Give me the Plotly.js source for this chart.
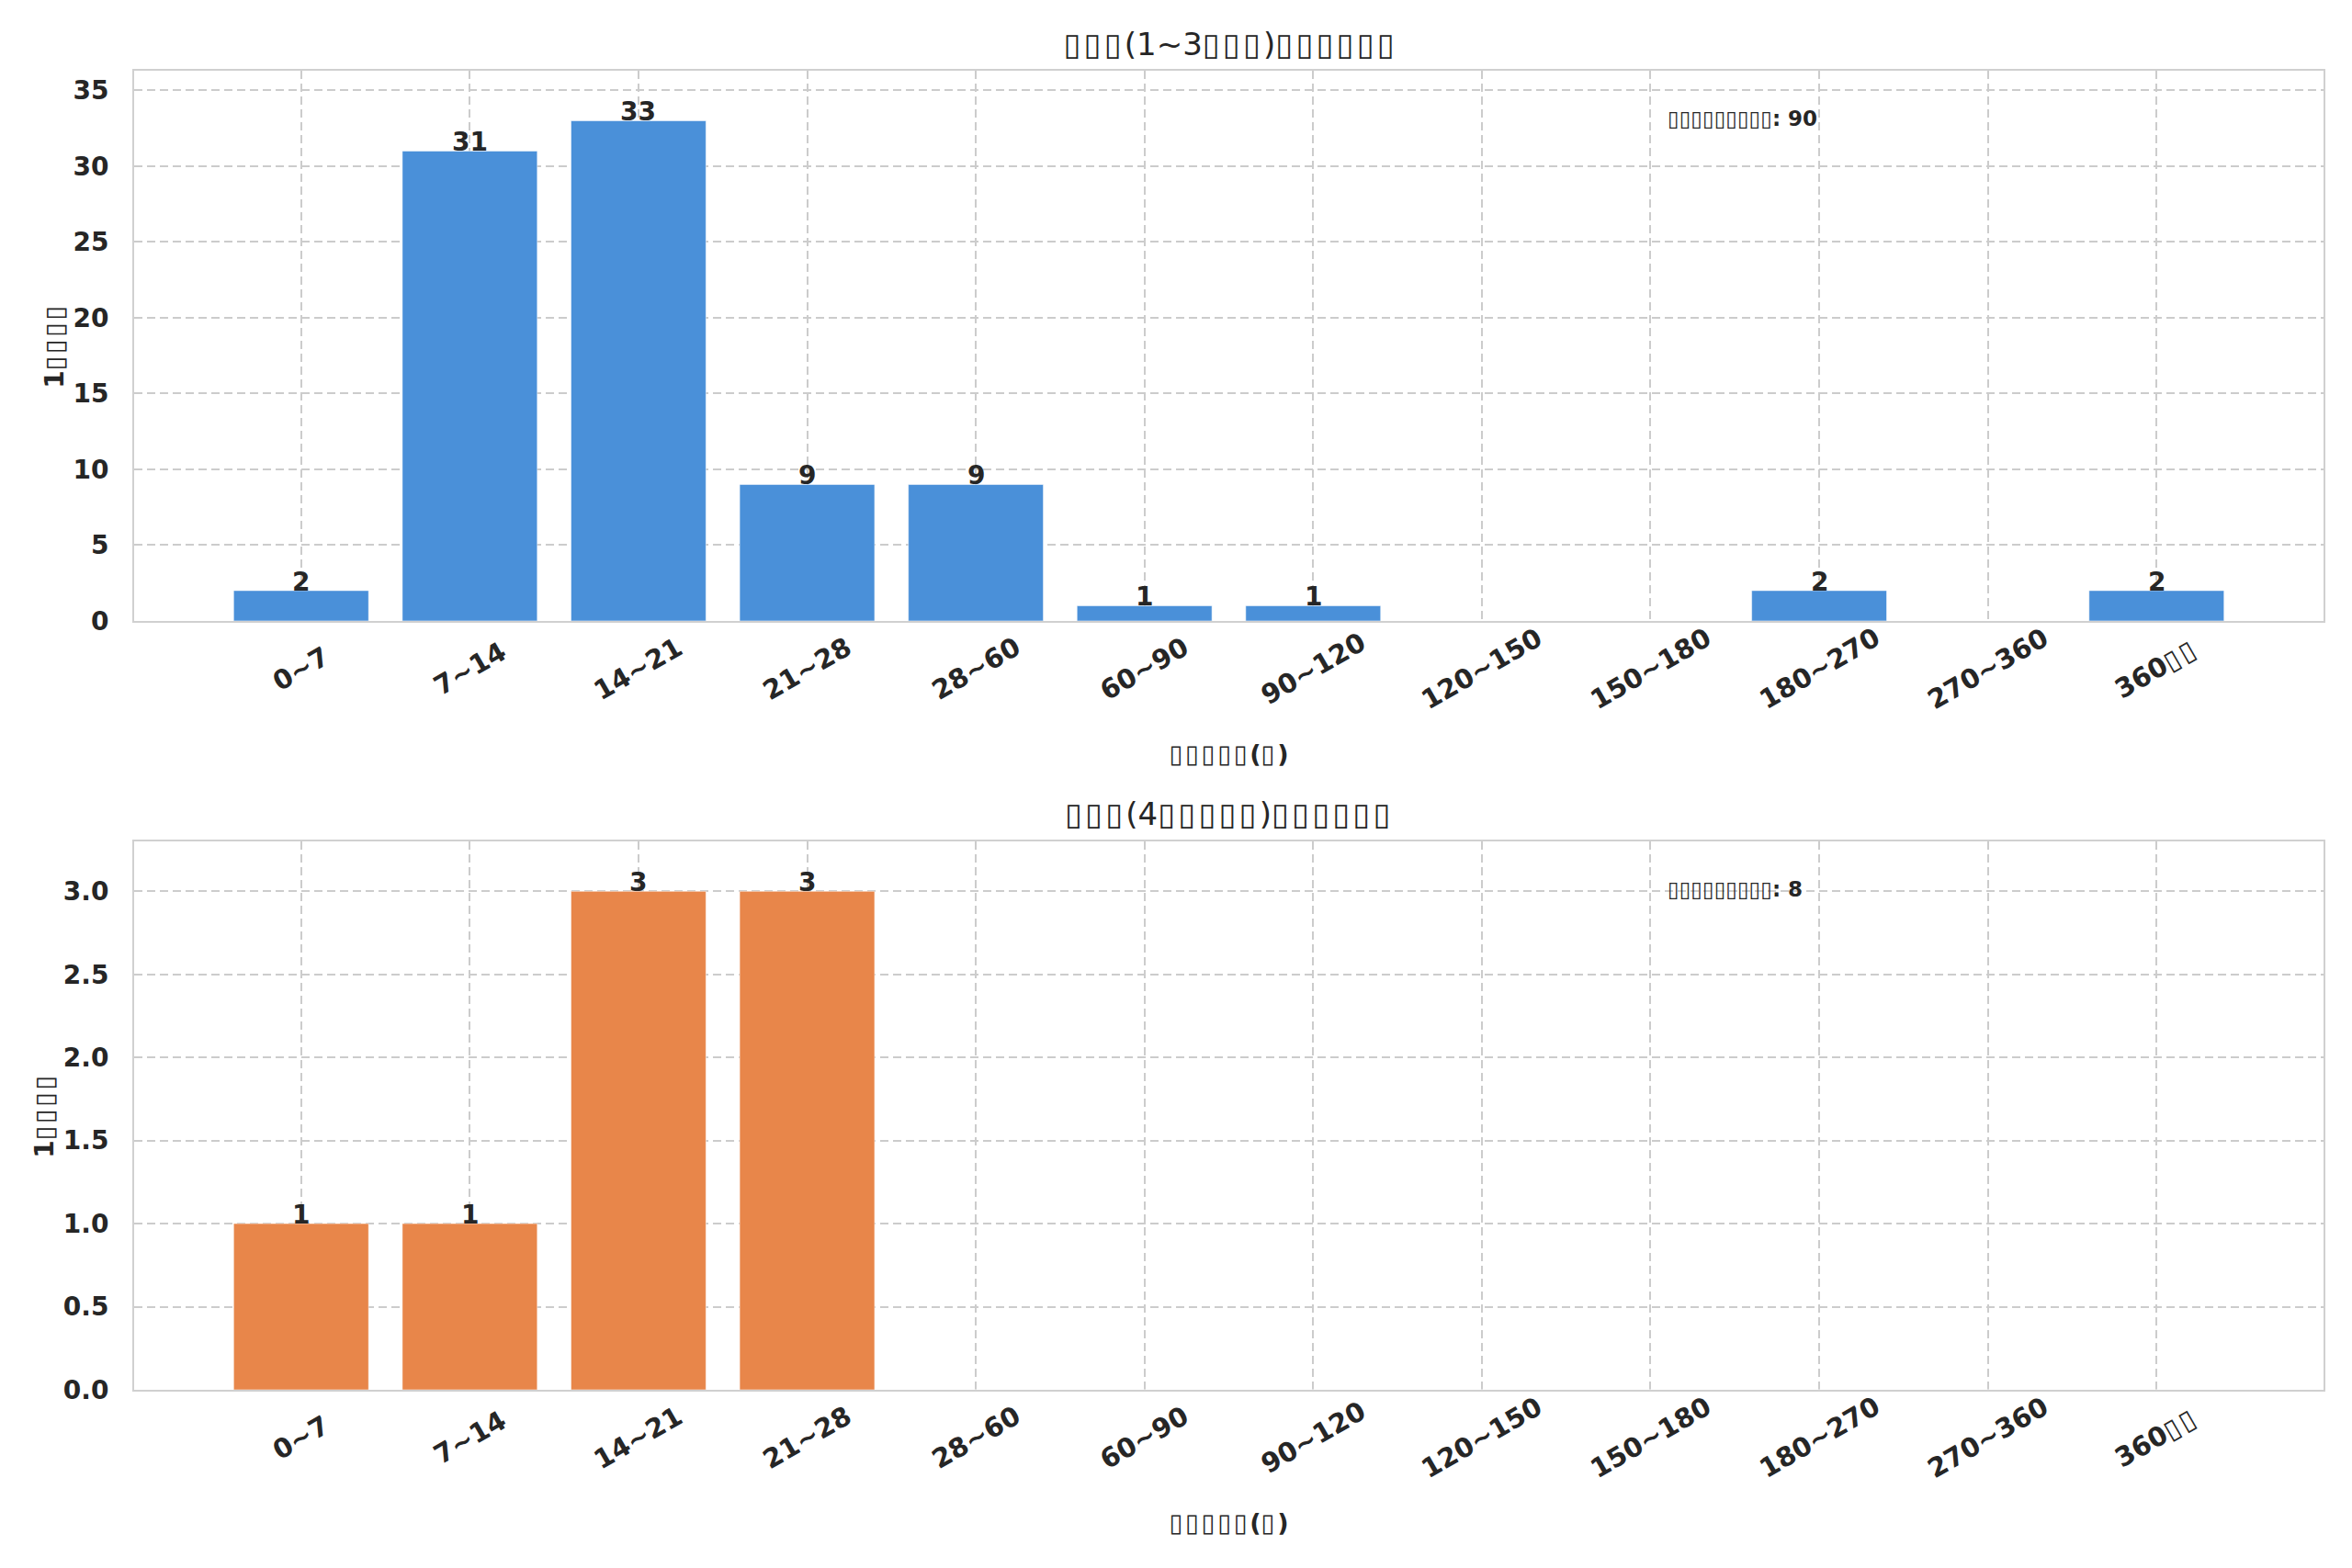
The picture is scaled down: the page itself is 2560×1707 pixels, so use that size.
<!DOCTYPE html>
<html>
<head>
<meta charset="utf-8">
<script src="https://cdn.plot.ly/plotly-3.0.1.min.js"></script>
<style>html,body{margin:0;padding:0;background:#fff;}#chart{width:2560px;height:1707px;}</style>
</head>
<body>
<div id="chart"></div>
<script>
// ---- data ----
var categories = ['0~7','7~14','14~21','21~28','28~60','60~90','90~120','120~150','150~180','180~270','270~360','360▯▯'];
var valuesTop = [2,31,33,9,9,1,1,0,0,2,0,2];
var valuesBottom = [1,1,3,3,0,0,0,0,0,0,0,0];
var titleTop = '▯▯▯(1~3▯▯▯)▯▯▯▯▯▯';
var titleBottom = '▯▯▯(4▯▯▯▯▯)▯▯▯▯▯▯';
var xTitle = '▯▯▯▯▯(▯)';
var yTitle = '1▯▯▯▯';
var totalLabel = '▯▯▯▯▯▯▯▯▯: ';

var FONT = 'DejaVu Sans, sans-serif';
var TXT = '#262626';
var GRID = '#cccccc';
var SPINE = '#d0d0d0';

// missing-glyph boxes are a little wider than the box character
function tofu(s){return s.replace(/▯/g,'▯\u200A');}
function sum(a){return a.reduce(function(s,v){return s+v;},0);}

var traces = [
  {type:'bar', x:categories, y:valuesTop, width:0.8, hoverinfo:'x+y', showlegend:false,
    marker:{color:'#4A90D9', line:{color:'rgba(255,255,255,0.5)', width:1}}, xaxis:'x', yaxis:'y'},
  {type:'bar', x:categories, y:valuesBottom, width:0.8, hoverinfo:'x+y', showlegend:false,
    marker:{color:'#E8864A', line:{color:'rgba(255,255,255,0.5)', width:1}}, xaxis:'x2', yaxis:'y2'}
];

function xaxis(anchor){
  return {
    anchor:anchor, type:'category', categoryorder:'array', categoryarray:categories,
    range:[-0.99, 11.99], showticklabels:false, ticks:'',
    showgrid:true, gridcolor:GRID, gridwidth:2, griddash:'9px,5px',
    showline:true, linecolor:SPINE, linewidth:2, mirror:true, zeroline:false,
    title:{text:'<b>'+tofu(xTitle)+'</b>', font:{family:FONT,size:27,color:TXT}, standoff:134}
  };
}
function yaxis(anchor, domain, range, dtick, fmt){
  return {
    anchor:anchor, domain:domain, range:range, dtick:dtick, tick0:0, tickformat:fmt,
    ticks:'', ticklabelstandoff:20,
    tickfont:{family:FONT,size:28,color:TXT,weight:'bold'},
    showgrid:true, gridcolor:GRID, gridwidth:2, griddash:'9px,5px',
    showline:true, linecolor:SPINE, linewidth:2, mirror:true, zeroline:false,
    title:{text:'<b>'+tofu(yTitle)+'</b>', font:{family:FONT,size:28,color:TXT}, standoff:2}
  };
}

var annotations = [];
[['x','y',valuesTop],['x2','y2',valuesBottom]].forEach(function(p){
  // rotated category labels, centred under each category
  categories.forEach(function(c){
    annotations.push({
      x:c, xref:p[0], y:0, yref:p[1]+' domain', yshift:-52,
      xanchor:'center', yanchor:'middle', textangle:-30, showarrow:false,
      text:'<b>'+tofu(c)+'</b>', font:{family:FONT,size:29,color:TXT}
    });
  });
  // value labels on top of non-empty bars
  p[2].forEach(function(v,i){
    if(v>0){
      annotations.push({
        x:categories[i], xref:p[0], y:v, yref:p[1], yshift:-9,
        xanchor:'center', yanchor:'bottom', showarrow:false,
        text:'<b>'+v+'</b>', font:{family:FONT,size:28,color:TXT}
      });
    }
  });
});
// totals
annotations.push({x:0.6995, xref:'x domain', y:1, yref:'y domain', yshift:-52,
  xanchor:'left', yanchor:'middle', showarrow:false,
  text:'<b>'+totalLabel+sum(valuesTop)+'</b>', font:{family:FONT,size:23,color:TXT}});
annotations.push({x:0.6995, xref:'x2 domain', y:1, yref:'y2 domain', yshift:-52,
  xanchor:'left', yanchor:'middle', showarrow:false,
  text:'<b>'+totalLabel+sum(valuesBottom)+'</b>', font:{family:FONT,size:23,color:TXT}});
// second subplot title
annotations.push({x:0.5, xref:'x2 domain', y:1, yref:'y2 domain', yshift:30,
  xanchor:'center', yanchor:'middle', showarrow:false,
  text:tofu(titleBottom), font:{family:FONT,size:34,color:TXT}});

var layout = {
  width:2560, height:1707,
  paper_bgcolor:'#ffffff', plot_bgcolor:'#ffffff',
  margin:{l:146, r:31, t:77, b:194, autoexpand:false},
  font:{family:FONT, color:TXT},
  title:{text:tofu(titleTop), x:0.5, xanchor:'center', xref:'paper', y:1-48/1707, yanchor:'middle', yref:'container',
    font:{family:FONT,size:34,color:TXT}},
  xaxis:xaxis('y'),
  yaxis:yaxis('x',[0.5829,1],[0,36.3],5,'d'),
  xaxis2:xaxis('y2'),
  yaxis2:yaxis('x2',[0,0.4157],[0,3.3],0.5,'.1f'),
  annotations:annotations
};

Plotly.newPlot('chart', traces, layout, {staticPlot:true});
</script>
</body>
</html>
